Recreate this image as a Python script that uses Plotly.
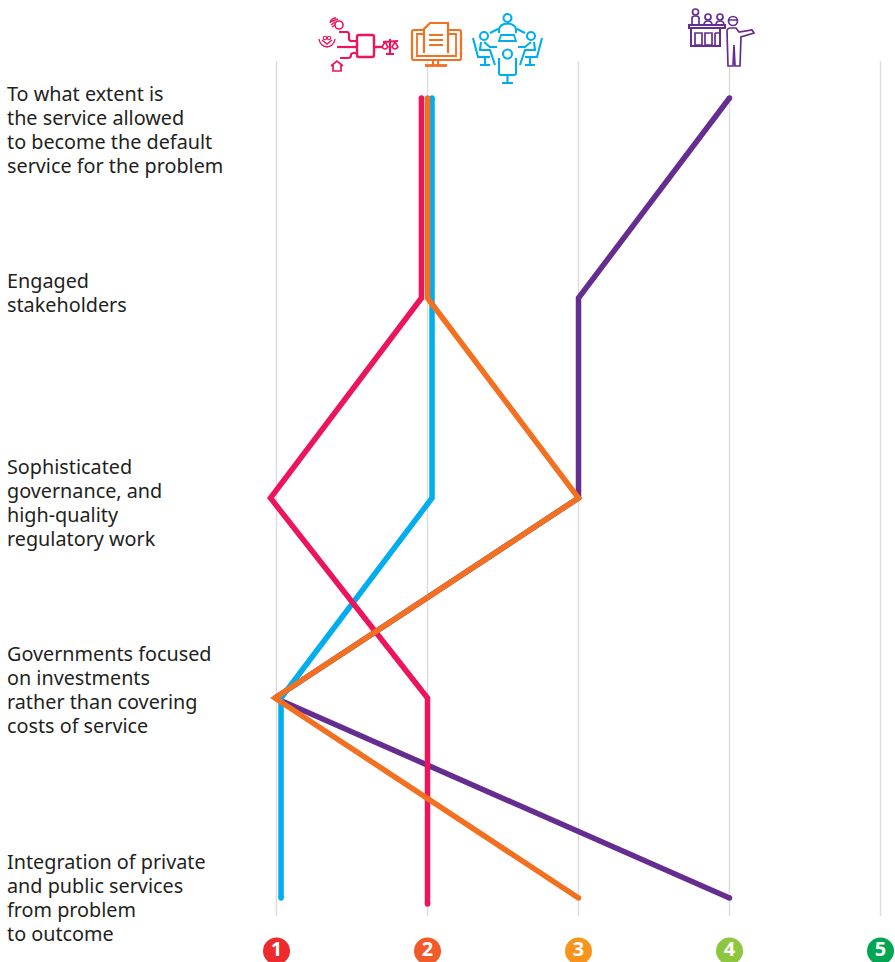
import plotly.graph_objects as go

# rows are top to bottom, 1-5 scale on x
rows = [1, 2, 3, 4, 5]
crimson_rows = [1, 2, 3, 4, 5.03]
row_labels = [
    ["To what extent is", "the service allowed", "to become the default", "service for the problem"],
    ["Engaged", "stakeholders"],
    ["Sophisticated", "governance, and", "high-quality", "regulatory work"],
    ["Governments focused", "on investments", "rather than covering", "costs of service"],
    ["Integration of private", "and public services", "from problem", "to outcome"],
]
label_tops = [93, 280, 466, 653, 861]

scale_ticks = [1, 2, 3, 4, 5]
tick_colors = ["#ED2A2E", "#F15A29", "#F7941E", "#8DC63F", "#00A651"]

purple_vals = [4.0, 3.0, 3.0, 0.99, 4.0]
blue_vals = [2.03, 2.03, 2.03, 1.03, 1.03]
crimson_vals = [1.96, 1.96, 0.96, 2.0, 2.0]
orange_vals = [2.0, 2.0, 3.0, 0.99, 3.0]

CRIMSON = "#ED145B"
ORANGE = "#F37021"
BLUE = "#00AEEF"
PURPLE = "#662D91"

fig = go.Figure()

# 151px per scale unit, 200px per row, full bleed
fig.update_xaxes(range=[1 - 276.5 / 151, 1 + (895 - 276.5) / 151], visible=False)
fig.update_yaxes(range=[1 + (962 - 98) / 200, 1 - 98 / 200], visible=False)

for v in scale_ticks:
    fig.add_shape(type="line", x0=v, x1=v, y0=0.815, y1=5.09,
                  line=dict(color="#DCDCDC", width=1.4), layer="below")

for vals, ys, color in [(purple_vals, rows, PURPLE), (blue_vals, rows, BLUE),
                        (crimson_vals, crimson_rows, CRIMSON), (orange_vals, rows, ORANGE)]:
    fig.add_trace(go.Scatter(
        x=vals, y=ys, mode="lines+markers", showlegend=False, cliponaxis=False,
        line=dict(color=color, width=5.5),
        # marker array sizes default to 0.7 opacity, the end dots act as round caps
        marker=dict(color=color, size=[5.5, 0, 0, 0, 5.5], opacity=1, line=dict(width=0)),
    ))

# numbered scale badges under the chart
fig.add_trace(go.Scatter(
    x=scale_ticks, y=[5.265] * 5, mode="markers+text", showlegend=False, cliponaxis=False,
    marker=dict(color=tick_colors, size=27, line=dict(width=0)),
    text=[str(v) for v in scale_ticks], textposition="middle center",
    textfont=dict(family="Noto Sans", size=20, color="white", weight="bold"),
))

# pixel space overlay for the labels and icons
fig.update_layout(
    xaxis2=dict(range=[0, 895], overlaying="x", visible=False),
    yaxis2=dict(range=[962, 0], overlaying="y", visible=False),
)
fig.add_trace(go.Scatter(x=[0, 895], y=[0, 962], xaxis="x2", yaxis="y2", mode="none", showlegend=False))

for top, lines in zip(label_tops, row_labels):
    for i, line in enumerate(lines):
        fig.add_annotation(x=4.5, y=top + i * 24, xref="x2", yref="y2", text=line, showarrow=False,
                           xanchor="left", yanchor="middle",
                           font=dict(family="Noto Sans", size=19.8, color="#231F20"))


def path(d, color, width=2.1, fill=None):
    fig.add_shape(type="path", path=d, xref="x2", yref="y2",
                  line=dict(color=color, width=width), fillcolor=fill or "rgba(0,0,0,0)")


def circle(cx, cy, r, color, width=2.1, fill=None):
    fig.add_shape(type="circle", x0=cx - r, x1=cx + r, y0=cy - r, y1=cy + r, xref="x2", yref="y2",
                  line=dict(color=color, width=width), fillcolor=fill or "rgba(0,0,0,0)")


# funding / scales icon
path("M359 35 L372 35 Q374 35 374 37 L374 55 Q374 57 372 57 L359 57 Q357 57 357 55 L357 37 Q357 35 359 35 Z", CRIMSON, 2.4)
path("M374 47 L383 47", CRIMSON, 2.4)
path("M383 42 L398 41 M390 39 L390 54 M386 54 L394 54", CRIMSON, 2.2)
path("M382 47 Q385 51 388 47 L385 42 Z M392 47 Q395 51 398 47 L395 42 Z", CRIMSON, 1.6)
path("M339 32 L347 32 Q349 32 349 35 L349 39 Q349 41 352 41 L357 41", CRIMSON, 2.2)
path("M337 47 L357 47", CRIMSON, 2.2)
path("M340 58 L348 58 Q351 58 351 55 Q351 53 354 53 L357 53", CRIMSON, 2.2)
circle(339, 25, 4, CRIMSON, 1.6)
path("M330 23 Q331 18 336 18 M330 22 L338 19 M331 25 L335 22 M332 27 L335 25", CRIMSON, 1.5)
path("M319 39 Q320 46 327 47 Q334 46 335 39 M322 40 L327 44 L332 40", CRIMSON, 1.4)
circle(325, 38, 1.7, CRIMSON, 1.1)
circle(329, 38, 1.7, CRIMSON, 1.1)
path("M331 66 L337 61 L343 66 M333 65 L333 71 L341 71 L341 65", CRIMSON, 1.7)

# monitor with document icon
path("M414 30 L459 30 Q461 30 461 32 L461 58 Q461 60 459 60 L414 60 Q412 60 412 58 L412 32 Q412 30 414 30 Z", ORANGE, 2.2)
path("M424 34 L417 34 L417 56 L456 56 L456 34 L448 34", ORANGE, 1.8)
path("M424 53 L424 29 L430 23 L448 23 L448 53", ORANGE, 2.2, "white")
path("M429 35 L443 35 M429 40 L443 40 M429 45 L443 45", ORANGE, 1.9)
path("M433 60 L433 65 M438 60 L438 65", ORANGE, 2)
path("M425 65.5 L447 65.5", ORANGE, 2.8)

# meeting round a table icon
circle(507.5, 18, 4, BLUE)
path("M499 33 L499 29 Q500 24 507.5 23.5 Q515 24 516 29 L516 33", BLUE)
path("M501 35 L514 35 L516 41 L499 41 Z", BLUE, 1.8)
path("M490 33 L498 29 M517 29 L525 33", BLUE)
circle(484, 36, 4, BLUE)
circle(531, 36, 4, BLUE)
path("M473 38 L478 57 L490 57 M485 57 L485 65 M480 65 L490 65", BLUE)
path("M481 42 L480 50 L490 50 L495 65 M484 42 L490 47 L497 47", BLUE)
path("M542 38 L537 57 L525 57 M530 57 L530 65 M535 65 L525 65", BLUE)
path("M534 42 L535 50 L525 50 L520 65 M531 42 L525 47 L518 47", BLUE)
circle(507.5, 54, 4.5, BLUE)
path("M499 58 L499 73 Q499 75 501 75 L514 75 Q516 75 516 73 L516 58 M507.5 75 L507.5 82 M502 83 L513 83", BLUE)

# presenter icon
path("M689 25 L725 25 L725 28 L689 28 Z", PURPLE, 2)
path("M691 28 L691 46 L720 46 L720 28", PURPLE, 2)
path("M695 33 L702 33 L702 45 L695 45 Z M705 33 L712 33 L712 45 L705 45 Z M715 33 L720 33 M715 33 L715 45", PURPLE, 1.7)
circle(695.5, 12, 3, PURPLE, 1.7)
path("M692 25 L692 18 Q692 16 695.5 16 Q699 16 699 18 L699 25", PURPLE, 1.7)
circle(708, 17, 3, PURPLE, 1.7)
path("M704 25 Q704 21 708 21 Q712 21 712 25", PURPLE, 1.7)
circle(720, 17, 3, PURPLE, 1.7)
path("M716 25 Q716 21 720 21 Q724 21 724 25", PURPLE, 1.7)
circle(733, 21, 4.5, PURPLE, 1.7)
path("M728 20 L738 20", PURPLE, 1.5)
path("M727 31 Q727 28 731 28 L736 28 L739 32 L752 30 L754 33 L741 37 L740 66 L735 66 L734 45 L733 66 L728 66 Z", PURPLE, 1.7, "white")

fig.update_layout(
    width=895, height=962, margin=dict(l=0, r=0, t=0, b=0),
    plot_bgcolor="white", paper_bgcolor="white", showlegend=False,
)

fig.write_html("out.html", config=dict(displayModeBar=False),
               post_script="document.body.style.margin='0';")
